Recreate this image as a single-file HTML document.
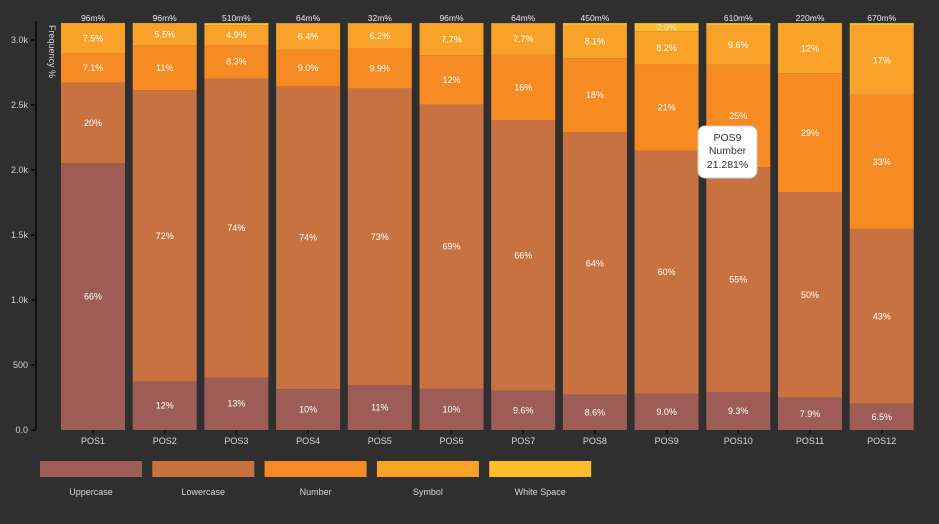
<!DOCTYPE html>
<html><head><meta charset="utf-8"><style>
html,body{margin:0;padding:0;background:#2f2f2f;}
svg{display:block;font-family:"Liberation Sans",sans-serif;}
</style></head><body>
<svg id="chart" width="939" height="524" viewBox="0 0 939 524">
<rect x="0" y="0" width="939" height="524" fill="#2f2f2f"/>
<g id="plot"></g>
</svg>
<script>
const categories=["POS1","POS2","POS3","POS4","POS5","POS6","POS7","POS8","POS9","POS10","POS11","POS12"];
const seriesNames=["Uppercase","Lowercase","Number","Symbol","White Space"];
const uppercase=[66,12,13,10,11,10,9.6,8.6,9.0,9.3,7.9,6.5];
const lowercase=[20,72,74,74,73,69,66,64,60,55,50,43];
const number=[7.1,11,8.3,9.0,9.9,12,16,18,21.281,25,29,33];
const symbol=[7.5,5.5,4.9,6.4,6.2,7.7,7.7,8.1,8.2,9.6,12,17];
const whiteSpace=[0.096,0.096,0.51,0.064,0.032,0.096,0.064,0.45,2.0,0.61,0.22,0.67];
const lblUpper=["66%","12%","13%","10%","11%","10%","9.6%","8.6%","9.0%","9.3%","7.9%","6.5%"];
const lblLower=["20%","72%","74%","74%","73%","69%","66%","64%","60%","55%","50%","43%"];
const lblNumber=["7.1%","11%","8.3%","9.0%","9.9%","12%","16%","18%","21%","25%","29%","33%"];
const lblSymbol=["7.5%","5.5%","4.9%","6.4%","6.2%","7.7%","7.7%","8.1%","8.2%","9.6%","12%","17%"];
const lblWhite=["96m%","96m%","510m%","64m%","32m%","96m%","64m%","450m%","2.0%","610m%","220m%","670m%"];
const totals=[3130,3130,3130,3130,3130,3130,3130,3130,3130,3130,3130,3130];
const yTicks=[0,500,1000,1500,2000,2500,3000];
const yTickLabels=["0.0","500","1.0k","1.5k","2.0k","2.5k","3.0k"];
const colors=["#9d5c56","#c97241","#f68a23","#f9a22a","#fbbd2c"];

const NS="http://www.w3.org/2000/svg";
const g=document.getElementById('plot');
function mk(t,a,txt){const e=document.createElementNS(NS,t);for(const k in a)e.setAttribute(k,a[k]);if(txt!==undefined)e.textContent=txt;g.appendChild(e);return e;}
const y0=430,pxPer=0.13;
function yScale(v){return y0-v*pxPer;}
const barW=64,pitch=71.7,x0=61;
function xScale(i){return x0+i*pitch;}

// axis
let ax=mk('line',{x1:36,y1:21,x2:36,y2:430,stroke:'#111','stroke-width':2});

yTicks.forEach((t,i)=>{
  let l=mk('line',{x1:31,y1:yScale(t),x2:36,y2:yScale(t),stroke:'#111','stroke-width':2});
  
  let tx=mk('text',{x:28,y:yScale(t)+3,'text-anchor':'end','font-size':9,fill:'#cfcfcf'},yTickLabels[i]);
  
});
let yt=mk('text',{x:0,y:0,'font-size':9,fill:'#d8d8d8',transform:'translate(49,25) rotate(90)'},'Frequency %');


const series=[uppercase,lowercase,number,symbol,whiteSpace];
const labels=[lblUpper,lblLower,lblNumber,lblSymbol,lblWhite];
categories.forEach((c,i)=>{
  const sum=series.reduce((s,a)=>s+a[i],0);
  let cum=0;const x=xScale(i);
  series.forEach((arr,k)=>{
    const v=arr[i]/sum*totals[i];
    const yt=yScale(cum+v),yb=yScale(cum);
    let r=mk('rect',{x:x,y:yt,width:barW,height:Math.max(0,yb-yt),fill:colors[k]});
    
    
    let ly;
    if(k===4){ly=arr[i]>=1?yt+7:21;}
    else if(k===3){ly=Math.max(yt+9,(yt+yb)/2+3);}
    else ly=(yt+yb)/2+3;
    let t=mk('text',{x:x+barW/2,y:ly,'text-anchor':'middle','font-size':(k===4?8.5:9),fill:(k===4?'#e8e8f0':'#fff')},labels[k][i]);
    
    cum+=v;
  });
  let tk=mk('line',{x1:x+barW/2,y1:430,x2:x+barW/2,y2:434,stroke:'#111','stroke-width':1.5});
  
  let xl=mk('text',{x:x+barW/2,y:444,'text-anchor':'middle','font-size':9,fill:'#d8d8d8'},c);
  
});
// legend
seriesNames.forEach((n,k)=>{
  const lx=40+k*112.3;
  let r=mk('rect',{x:lx,y:461,width:102,height:16,fill:colors[k]});
  
  let t=mk('text',{x:lx+51,y:495,'text-anchor':'middle','font-size':9,fill:'#d8d8d8'},n);
  
});
// tooltip
let tip=mk('rect',{x:698,y:126,width:59,height:52,rx:7,fill:'#fff',stroke:'#ccc'});

[["POS9",141],["Number",154],["21.281%",168]].forEach(([s,yy])=>{
  let t=mk('text',{x:727.5,y:yy,'text-anchor':'middle','font-size':10.5,fill:'#333'},s);
  
});
</script>
</body></html>
